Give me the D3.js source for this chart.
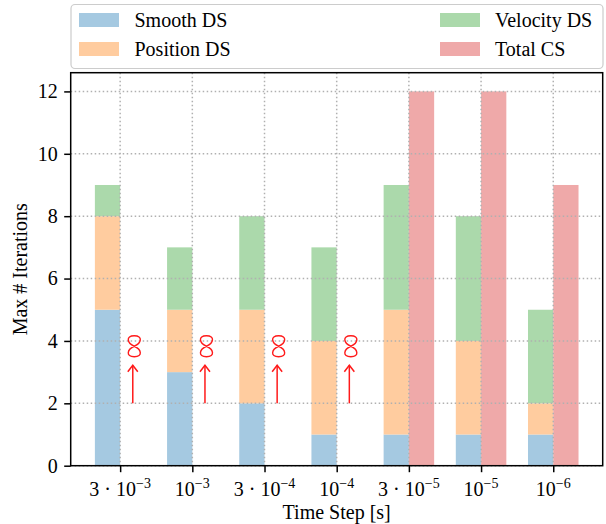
<!DOCTYPE html>
<html>
<head>
<meta charset="utf-8">
<script src="https://cdn.jsdelivr.net/npm/d3@7"></script>
<style>
  html, body { margin: 0; padding: 0; background: #fff; }
</style>
</head>
<body>
<svg id="chart" width="606" height="524"></svg>
<script>
// Time step labels: mantissa part and exponent of 10
const tickBase = ["3 \u00b7 10", "10", "3 \u00b7 10", "10", "3 \u00b7 10", "10", "10"];
const tickExp  = ["\u22123", "\u22123", "\u22124", "\u22124", "\u22125", "\u22125", "\u22126"];

// Max iterations per solver stage (stacked), and the coupled solver
const smoothDS   = [5, 3, 2, 1, 1, 1, 1];
const positionDS = [3, 2, 3, 3, 4, 3, 1];
const velocityDS = [1, 2, 3, 3, 4, 4, 3];
const totalCS    = [Infinity, Infinity, Infinity, Infinity, 12, 12, 9];

const yTicks = [0, 2, 4, 6, 8, 10, 12];

const seriesNames  = ["Smooth DS", "Position DS", "Velocity DS", "Total CS"];
const seriesColors = ["#a5c9e1", "#ffcc9f", "#abd9ab", "#efa9a9"];

const FONT = "'Liberation Serif', 'Times New Roman', serif";
const fontSize = 20;

const svg = d3.select("#chart");

const plot = { left: 70.7, top: 72.7, width: 532, height: 393 };
const barW = 0.35;

const x = d3.scaleLinear().domain([-0.685, 6.685]).range([0, plot.width]);
const y = d3.scaleLinear().domain([0, 12.6]).range([plot.height, 0]);

const g = svg.append("g").attr("transform", `translate(${plot.left},${plot.top})`);

// stacked DS bars
const idx = d3.range(tickBase.length);
const stackData = idx.map(i => ({ i, s: smoothDS[i], p: positionDS[i], v: velocityDS[i] }));
const stack = d3.stack().keys(["s", "p", "v"])(stackData);

stack.forEach((layer, k) => {
  g.append("g").selectAll("rect").data(layer).join("rect")
    .attr("x", d => x(d.data.i - barW))
    .attr("width", x(barW) - x(0))
    .attr("y", d => y(d[1]))
    .attr("height", d => y(d[0]) - y(d[1]))
    .attr("fill", seriesColors[k]);
});

// coupled solver bars (finite values only)
g.append("g").selectAll("rect")
  .data(idx.filter(i => isFinite(totalCS[i])))
  .join("rect")
  .attr("x", i => x(i))
  .attr("width", x(barW) - x(0))
  .attr("y", i => y(totalCS[i]))
  .attr("height", i => y(0) - y(totalCS[i]))
  .attr("fill", seriesColors[3]);

// grid on top of the bars
const grid = g.append("g")
  .attr("stroke", "#b0b0b0")
  .attr("stroke-width", 1.5)
  .attr("stroke-dasharray", "1.5,2.5");
grid.selectAll(".gy").data(yTicks).join("line")
  .attr("x1", 0).attr("x2", plot.width)
  .attr("y1", d => y(d)).attr("y2", d => y(d));
grid.selectAll(".gx").data(idx).join("line")
  .attr("x1", d => x(d)).attr("x2", d => x(d))
  .attr("y1", 0).attr("y2", plot.height);

// divergence markers for the coupled solver: up arrow plus an upright infinity sign
const arrowFrom = 2, arrowTo = 3.22, infAt = 3.83;
const red = "#ff1a1a";
const marks = g.append("g").selectAll("g")
  .data(idx.filter(i => !isFinite(totalCS[i])))
  .join("g")
  .attr("transform", i => `translate(${x(i + barW / 2)},0)`);
marks.append("line")
  .attr("x1", 0).attr("x2", 0)
  .attr("y1", y(arrowFrom)).attr("y2", y(arrowTo))
  .attr("stroke", red).attr("stroke-width", 1.5);
marks.append("path")
  .attr("d", () => { const t = y(arrowTo); return `M-5,${t + 6.5}L0,${t}L5,${t + 6.5}`; })
  .attr("fill", "none").attr("stroke", red).attr("stroke-width", 1.5);
marks.append("path")
  .attr("transform", `translate(1.5,${y(infAt)})`)
  .attr("d", "M0,0C7,-3 9,-10.5 0,-10.5C-9,-10.5 -7,-3 0,0" +
             "C7,3 9,10.5 0,10.5C-9,10.5 -7,3 0,0Z")
  .attr("fill", "none").attr("stroke", red).attr("stroke-width", 1.4);

// y axis
const yAxis = g.append("g").call(d3.axisLeft(y).tickValues(yTicks).tickSize(6.5).tickPadding(6.5).tickFormat(d3.format("d")));
yAxis.select(".domain").remove();
yAxis.selectAll(".tick line").attr("stroke", "#000").attr("stroke-width", 1.5);
yAxis.selectAll(".tick text").style("font-size", fontSize + "px").style("font-family", FONT);

// x axis with exponent labels
const xAxis = g.append("g").attr("transform", `translate(0,${plot.height})`)
  .call(d3.axisBottom(x).tickValues(idx).tickSize(6.5).tickFormat(""));
xAxis.select(".domain").remove();
xAxis.selectAll(".tick line").attr("stroke", "#000").attr("stroke-width", 1.5);
const xl = g.append("g").selectAll("text").data(idx).join("text")
  .attr("x", i => x(i))
  .attr("y", plot.height + 30.5)
  .attr("text-anchor", "middle")
  .style("font-family", FONT)
  .style("font-size", fontSize + "px");
xl.append("tspan").text(i => tickBase[i]);
xl.append("tspan").attr("dy", -8).style("font-size", "14px").text(i => tickExp[i]);

// frame
g.append("rect").attr("width", plot.width).attr("height", plot.height)
  .attr("fill", "none").attr("stroke", "#000").attr("stroke-width", 1.5);

// axis titles
svg.append("text")
  .attr("transform", `translate(27,${plot.top + plot.height / 2}) rotate(-90)`)
  .attr("text-anchor", "middle")
  .style("font-family", FONT)
  .style("font-size", fontSize + "px")
  .text("Max # Iterations");
svg.append("text")
  .attr("x", plot.left + plot.width / 2).attr("y", 519)
  .attr("text-anchor", "middle")
  .style("font-family", FONT)
  .style("font-size", fontSize + "px")
  .text("Time Step [s]");

// legend
const lg = svg.append("g");
lg.append("rect")
  .attr("x", 71).attr("y", 4.5).attr("width", 532).attr("height", 64)
  .attr("rx", 4).attr("ry", 4)
  .attr("fill", "#fff").attr("fill-opacity", 0.8)
  .attr("stroke", "#cccccc").attr("stroke-width", 1.2);
const legendPos = [
  { px: 79, tx: 134.5, cy: 20 },
  { px: 79, tx: 134.5, cy: 49 },
  { px: 440, tx: 495, cy: 20 },
  { px: 440, tx: 495, cy: 49 }
];
seriesNames.forEach((name, k) => {
  const p = legendPos[k];
  lg.append("rect").attr("x", p.px).attr("y", p.cy - 7).attr("width", 40).attr("height", 14)
    .attr("fill", seriesColors[k]);
  lg.append("text").attr("x", p.tx).attr("y", p.cy + 7)
    .style("font-family", FONT)
    .style("font-size", fontSize + "px").text(name);
});
</script>
</body>
</html>
